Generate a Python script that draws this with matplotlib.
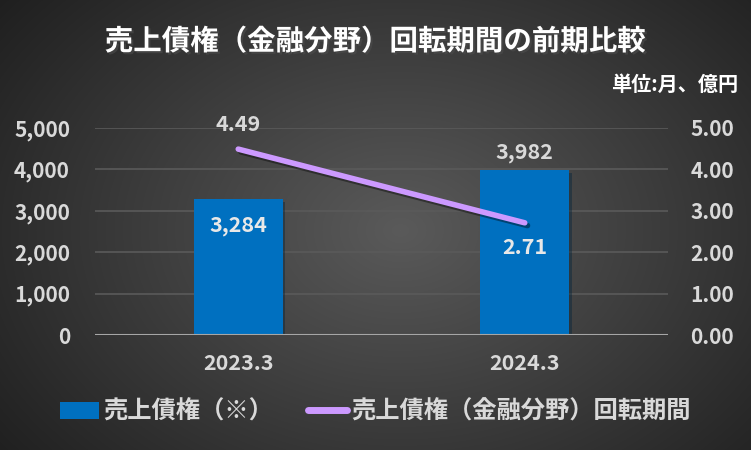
import numpy as np
import matplotlib
matplotlib.use("Agg")
import matplotlib.pyplot as plt
import matplotlib.patheffects as pe
from matplotlib.patches import Patch
from matplotlib.lines import Line2D

plt.rcParams['font.family'] = ['Noto Sans CJK JP', 'DejaVu Sans']

periods = ['2023.3', '2024.3']
receivables = [3284, 3982]          # 売上債権（※）, 億円
turnover = [4.49, 2.71]             # 回転期間, 月
left_ticks = [0, 1000, 2000, 3000, 4000, 5000]
right_ticks = [0, 1, 2, 3, 4, 5]

title = '売上債権（金融分野）回転期間の前期比較'
unit = '単位:月、億円'
bar_name = '売上債権（※）'
line_name = '売上債権（金融分野）回転期間'

bar_color = '#0070C0'
line_color = '#CC99FF'
text_color = '#D9D9D9'

fig = plt.figure(figsize=(7.51, 4.5), dpi=100)

# radial gradient background
bg = fig.add_axes([0, 0, 1, 1], zorder=-10)
yy, xx = np.mgrid[0:450, 0:751]
r = np.sqrt(((xx - 400) / 520.0) ** 2 + ((yy - 230) / 380.0) ** 2)
r = np.clip(r, 0, 1)
inner = np.array([0x5a, 0x5a, 0x5a]) / 255
outer = np.array([0x1e, 0x1e, 0x1e]) / 255
img = inner[None, None, :] * (1 - r[..., None]) + outer[None, None, :] * r[..., None]
bg.imshow(img, aspect='auto', extent=[0, 1, 0, 1])
bg.axis('off')

ax = fig.add_axes([95 / 751, 1 - 335 / 450, 573 / 751, 207 / 450])
ax.patch.set_alpha(0)
x = np.arange(len(periods))
bars = ax.bar(x, receivables, width=0.31, color=bar_color, zorder=3,
              path_effects=[pe.SimplePatchShadow(offset=(2, -2), alpha=0.4), pe.Normal()])
ax.set_xlim(-0.5, 1.5)
ax.set_ylim(0, 5000)
ax.set_yticks(left_ticks)
ax.set_yticklabels([f'{v:,}' for v in left_ticks])
ax.set_xticks(x)
ax.set_xticklabels(periods)
ax.grid(axis='y', color='#5a5a5a', linewidth=1.2, zorder=0)
ax.axhline(0, color='#a6a6a6', linewidth=1.5, zorder=4)
for s in ax.spines.values():
    s.set_visible(False)
ax.tick_params(axis='y', length=0, pad=18, labelsize=15, labelcolor=text_color)
ax.tick_params(axis='x', length=0, pad=13, labelsize=15.5, labelcolor=text_color)
for lab in ax.get_yticklabels() + ax.get_xticklabels():
    lab.set_fontweight('bold')

ax2 = ax.twinx()
ax2.set_ylim(0, 5)
ax2.set_yticks(right_ticks)
ax2.set_yticklabels([f'{v:.2f}' for v in right_ticks])
for s in ax2.spines.values():
    s.set_visible(False)
ax2.tick_params(axis='y', length=0, pad=16, labelsize=15, labelcolor=text_color)
for lab in ax2.get_yticklabels():
    lab.set_fontweight('bold')
ax2.plot(x, turnover, color=line_color, linewidth=4, solid_capstyle='round', zorder=5,
         path_effects=[pe.SimpleLineShadow(offset=(2, -2), alpha=0.4), pe.Normal()])

# data labels
ax.annotate(f'{receivables[0]:,}', (x[0], receivables[0]), xytext=(0, -19), textcoords='offset points',
            ha='center', va='center', fontsize=15.5, color='#E8E8E8', fontweight='bold', zorder=6)
ax.annotate(f'{receivables[1]:,}', (x[1], receivables[1]), xytext=(0, 13), textcoords='offset points',
            ha='center', va='center', fontsize=15.5, color=text_color, fontweight='bold', zorder=6)
ax2.annotate(f'{turnover[0]:.2f}', (x[0], turnover[0]), xytext=(0, 18), textcoords='offset points',
             ha='center', va='center', fontsize=15.5, color=text_color, fontweight='bold')
ax2.annotate(f'{turnover[1]:.2f}', (x[1], turnover[1]), xytext=(0, -18), textcoords='offset points',
             ha='center', va='center', fontsize=15.5, color='#E8E8E8', fontweight='bold')

fig.text(0.5, 1 - 42 / 450, title, ha='center', va='center', fontsize=20.5, fontweight='bold',
         color='white', path_effects=[pe.withSimplePatchShadow(offset=(1.5, -1.5), alpha=0.6)])
fig.text(738 / 751, 1 - 84 / 450, unit, ha='right', va='center', fontsize=14.5, fontweight='bold',
         color='white')

handles = [Patch(facecolor=bar_color, edgecolor='none'),
           Line2D([0], [0], color=line_color, linewidth=5, solid_capstyle='round')]
fig.legend(handles, [bar_name, line_name], loc='center', bbox_to_anchor=(0.5, 1 - 412 / 450),
           ncol=2, frameon=False, labelcolor=text_color, handlelength=1.6,
           handletextpad=0.2, columnspacing=1.4, prop={'weight': 'bold', 'size': 17.5})

fig.savefig('out.png', dpi=100)
